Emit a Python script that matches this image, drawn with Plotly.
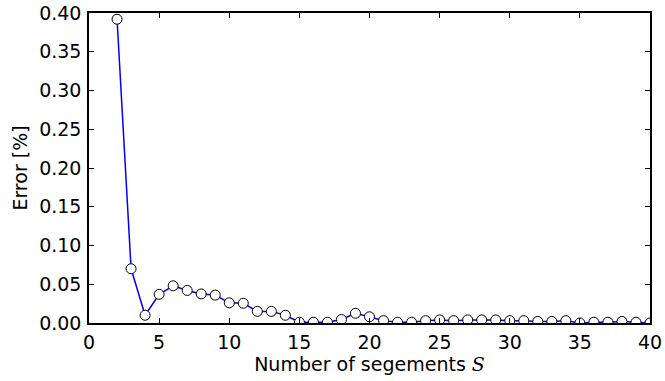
import plotly.graph_objects as go

segments = list(range(2, 41))
error = [0.392, 0.070, 0.010, 0.037, 0.048, 0.042, 0.0375, 0.036, 0.026, 0.0255,
         0.015, 0.015, 0.010, 0.001, 0.001, 0.001, 0.0045, 0.0125, 0.008, 0.003,
         0.001, 0.001, 0.003, 0.004, 0.003, 0.004, 0.004, 0.004, 0.003, 0.003,
         0.002, 0.002, 0.003, 0.000, 0.001, 0.001, 0.002, 0.001, 0.000]
x_ticks = [0, 5, 10, 15, 20, 25, 30, 35, 40]
y_ticks = [0.0, 0.05, 0.10, 0.15, 0.20, 0.25, 0.30, 0.35, 0.40]

fig = go.Figure()
fig.add_trace(go.Scatter(
    x=segments, y=error, mode="lines+markers",
    line=dict(color="#0000ff", width=1.5),
    marker=dict(size=10, color="white", line=dict(color="black", width=1)),
    cliponaxis=True,
))

font = dict(family="DejaVu Sans", size=19, color="black")
axis_common = dict(
    showgrid=False, zeroline=False, showline=True, linecolor="black", linewidth=1.5,
    mirror="allticks", ticks="inside", ticklen=5, tickwidth=1, tickcolor="black",
    tickfont=font, automargin=False,
)
fig.update_layout(
    width=665, height=381,
    margin=dict(l=89, r=15, t=13, b=58),
    paper_bgcolor="white", plot_bgcolor="white",
    showlegend=False,
    font=font,
    xaxis=dict(range=[0, 40], tickvals=x_ticks, ticktext=[str(v) for v in x_ticks],
               ticklabelstandoff=1,
               title=dict(text="Number of segements <span style='font-family:DejaVu Serif'><i>S</i></span>",
                          font=font, standoff=6),
               **axis_common),
    yaxis=dict(range=[0, 0.40], tickvals=y_ticks, ticktext=[f"{v:.2f}" for v in y_ticks],
               ticklabelstandoff=2,
               title=dict(text="Error [%]", font=font, standoff=6),
               **axis_common),
)
fig.write_html("out.html")
